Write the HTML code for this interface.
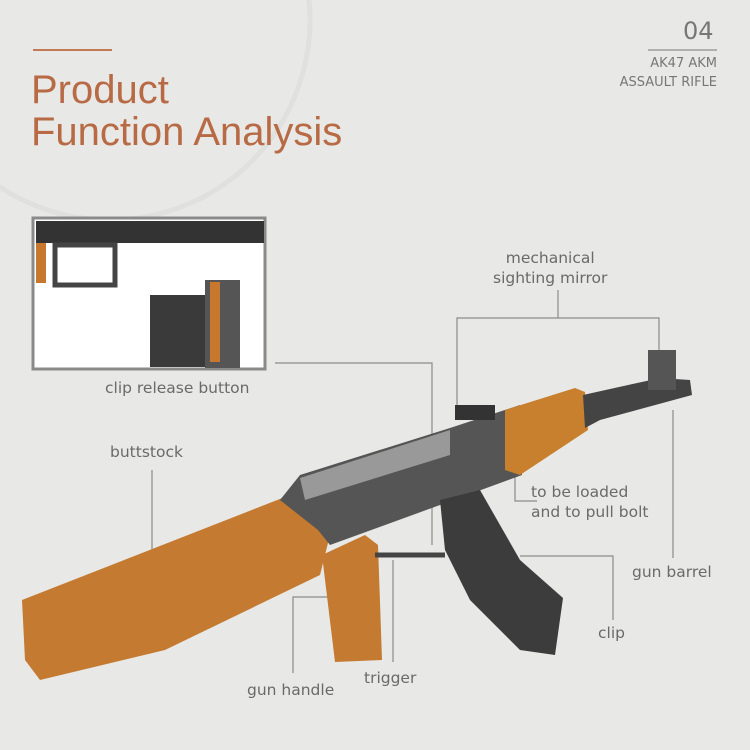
<!DOCTYPE html>
<html><head><style>
body{margin:0;}
#c{position:relative;width:750px;height:750px;background:#e8e8e7;overflow:hidden;font-family:"DejaVu Sans",sans-serif;}
.t{position:absolute;color:#6a6a6a;font-size:15.5px;white-space:nowrap;}
</style></head><body><div id="c">
<svg width="750" height="750" style="position:absolute;left:0;top:0">
<circle cx="110" cy="20" r="200" fill="none" stroke="#e0e0df" stroke-width="5"/>
<line x1="33" y1="50" x2="112" y2="50" stroke="#c07a55" stroke-width="2"/>
<line x1="648" y1="50" x2="717" y2="50" stroke="#777" stroke-width="1"/>
<rect x="33" y="218" width="232" height="151" fill="#fff" stroke="#8a8a8a" stroke-width="3"/>
<rect x="36" y="221" width="228" height="22" fill="#333"/>
<rect x="36" y="243" width="10" height="40" fill="#c8782e"/>
<rect x="55" y="245" width="60" height="40" fill="none" stroke="#444" stroke-width="5"/>
<rect x="150" y="295" width="55" height="72" fill="#3a3a3a"/>
<rect x="205" y="280" width="35" height="88" fill="#555"/>
<rect x="210" y="282" width="10" height="80" fill="#c8782e"/>
<g stroke="#8a8a8a" stroke-width="1.2" fill="none">
<polyline points="275,363 432,363 432,545"/>
<polyline points="457,410 457,318 659,318 659,390"/>
<line x1="558" y1="290" x2="558" y2="318"/>
<polyline points="515,440 515,501 537,501"/>
<line x1="673" y1="410" x2="673" y2="558"/>
<polyline points="520,556 613,556 613,620"/>
<line x1="393" y1="560" x2="393" y2="662"/>
<polyline points="336,597 293,597 293,673"/>
<line x1="152" y1="470" x2="152" y2="575"/>
</g>
<polygon points="22,600 290,495 330,535 320,575 165,650 40,680 25,660" fill="#c47a30"/>
<polygon points="280,500 300,475 450,428 520,405 522,475 440,505 330,545 318,530" fill="#555"/>
<polygon points="300,478 450,430 450,455 305,500" fill="#999"/>
<polygon points="505,410 575,388 585,392 588,430 520,475 505,470" fill="#c8802e"/>
<polygon points="583,395 660,378 690,380 692,395 600,420 585,428" fill="#444"/>
<rect x="648" y="350" width="28" height="40" fill="#555"/>
<rect x="455" y="405" width="40" height="15" fill="#333"/>
<polygon points="440,500 480,490 520,560 563,598 555,655 520,650 470,600 445,550" fill="#3c3c3c"/>
<polygon points="322,555 365,535 378,545 382,660 335,662" fill="#c47a30"/>
<line x1="375" y1="555" x2="445" y2="555" stroke="#444" stroke-width="5"/>
</svg>
<div style="position:absolute;left:31px;top:69px;color:#b76a44;font-family:'Liberation Sans',sans-serif;font-size:40px;line-height:42px;">Product<br>Function Analysis</div>
<div class="t" style="left:683px;top:17px;font-size:24px;color:#777">04</div>
<div class="t" style="right:33px;top:54px;font-size:13px;text-align:right;line-height:19px;color:#777">AK47 AKM<br>ASSAULT RIFLE</div>
<div class="t" style="left:105px;top:379px">clip release button</div>
<div class="t" style="left:110px;top:443px">buttstock</div>
<div class="t" style="left:493px;top:248px;text-align:center;line-height:20px">mechanical<br>sighting mirror</div>
<div class="t" style="left:531px;top:482px;line-height:20px">to be loaded<br>and to pull bolt</div>
<div class="t" style="left:632px;top:563px">gun barrel</div>
<div class="t" style="left:598px;top:624px">clip</div>
<div class="t" style="left:364px;top:669px">trigger</div>
<div class="t" style="left:247px;top:681px">gun handle</div>
</div></body></html>
